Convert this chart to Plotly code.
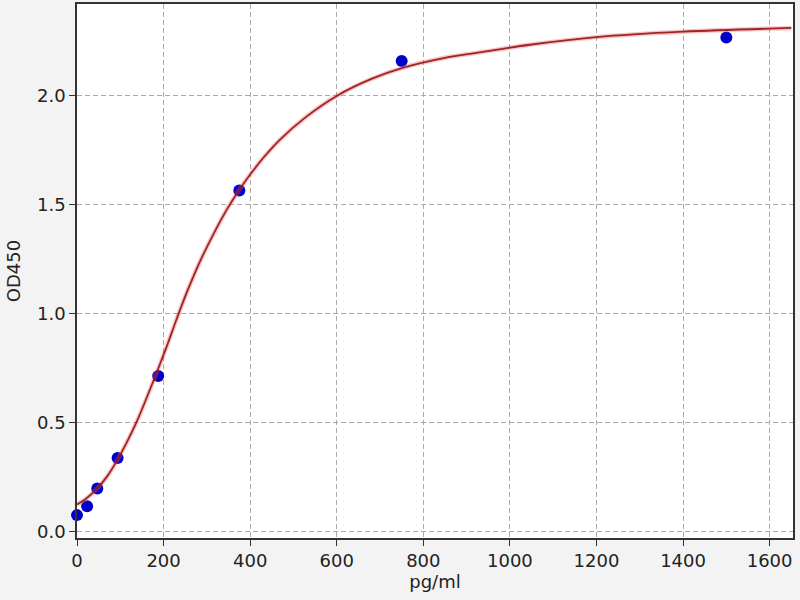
import plotly.graph_objects as go

# Standard points
conc = [0, 23.4, 46.9, 93.75, 187.5, 375, 750, 1500]
od = [0.076, 0.117, 0.198, 0.338, 0.715, 1.566, 2.16, 2.268]

# Fitted curve
curve_x = [0, 20, 45, 70, 92, 115, 138, 160, 188, 210, 230, 255, 284, 315, 346, 370, 392, 430, 469,
           530, 600, 680, 754, 850, 931, 1046, 1200, 1400, 1650]
curve_y = [0.125, 0.15, 0.195, 0.255, 0.325, 0.41, 0.505, 0.61, 0.75, 0.865, 0.975, 1.105, 1.24, 1.365,
           1.478, 1.555, 1.618, 1.715, 1.80, 1.905, 2.0, 2.078, 2.13, 2.175, 2.20, 2.235, 2.27, 2.295, 2.312]

x_ticks = [0, 200, 400, 600, 800, 1000, 1200, 1400, 1600]
y_ticks = [0.0, 0.5, 1.0, 1.5, 2.0]

fig = go.Figure()
fig.add_trace(go.Scatter(x=conc, y=od, mode="markers",
                         marker=dict(color="#0000cc", size=12, line=dict(width=0)),
                         showlegend=False, cliponaxis=False))
fig.add_trace(go.Scatter(x=curve_x, y=curve_y, mode="lines",
                         line=dict(color="rgba(235,90,90,0.35)", width=4.5, shape="spline", smoothing=1.0),
                         showlegend=False, hoverinfo="skip"))
fig.add_trace(go.Scatter(x=curve_x, y=curve_y, mode="lines",
                         line=dict(color="rgba(150,18,18,0.9)", width=1.8, shape="spline", smoothing=1.0),
                         showlegend=False))

font = dict(family="DejaVu Sans", size=18, color="#222")
axis_common = dict(showline=True, linecolor="#333", linewidth=1.6, mirror=True,
                   ticks="outside", ticklen=6, tickcolor="#333", tickwidth=1.4,
                   showgrid=True, gridcolor="#aaaaaa", griddash="5px,3px", gridwidth=1,
                   zeroline=False, tickfont=font)

fig.update_xaxes(range=[0, 1654], tickvals=x_ticks, ticktext=[str(v) for v in x_ticks],
                 title=dict(text="pg/ml", font=font, standoff=3),
                 **axis_common)
fig.update_yaxes(range=[-0.029, 2.422], tickvals=y_ticks, ticktext=[f"{v:.1f}" for v in y_ticks],
                 title=dict(text="OD450", font=font, standoff=12),
                 **axis_common)

fig.update_layout(width=800, height=600, paper_bgcolor="#f3f3f3", plot_bgcolor="white",
                  margin=dict(l=77, r=7, t=2, b=62))

fig.write_html("out.html", config={"displayModeBar": False},
               post_script="document.body.style.margin='0';document.body.style.padding='0';"
                           "document.body.style.overflow='hidden';")
